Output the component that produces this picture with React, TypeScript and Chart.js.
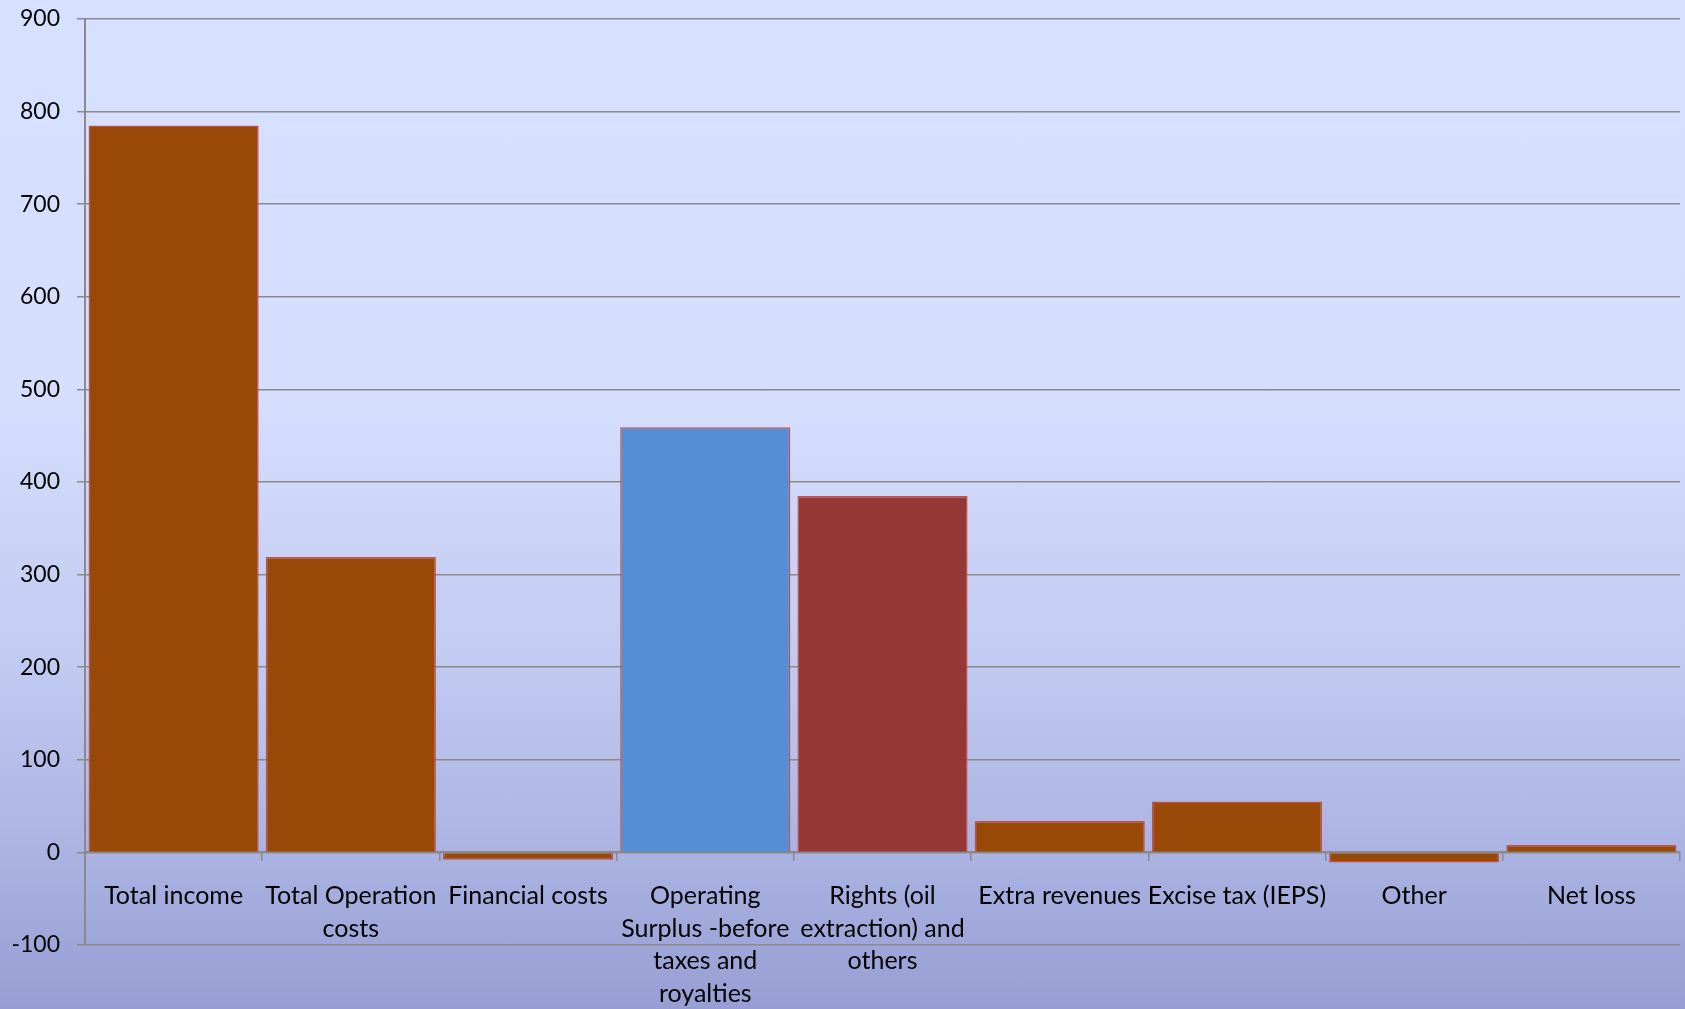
import React, { useEffect, useRef } from "react";
import { Chart, registerables } from "chart.js";

Chart.register(...registerables);

const CATEGORIES: (string | string[])[] = [
  "Total income",
  ["Total Operation", "costs"],
  "Financial costs",
  ["Operating", "Surplus -before", "taxes and", "royalties"],
  ["Rights (oil", "extraction) and", "others"],
  "Extra revenues",
  "Excise tax (IEPS)",
  "Other",
  "Net loss",
];

const VALUES: number[] = [785, 319, -8, 459, 385, 34, 55, -11, 8];

const Y_MIN = -100;
const Y_MAX = 900;
const Y_STEP = 100;

const BROWN = "#984807";
const BLUE = "#558ed5";
const RED = "#953735";
const BAR_COLORS = [BROWN, BROWN, BROWN, BLUE, RED, BROWN, BROWN, BROWN, BROWN];

const GRID = "#8a8a8a";
const FAMILY = "Lato, 'Noto Sans', sans-serif";

export default function App() {
  const ref = useRef<HTMLCanvasElement | null>(null);

  useEffect(() => {
    if (!ref.current) return;
    const chart = new Chart(ref.current, {
      type: "bar",
      data: {
        labels: CATEGORIES,
        datasets: [
          {
            data: VALUES,
            backgroundColor: BAR_COLORS,
            borderColor: "#c0504d",
            borderWidth: 1.5,
            barPercentage: 0.96,
            categoryPercentage: 1,
          },
        ],
      },
      options: {
        animation: false,
        responsive: false,
        layout: { padding: { top: 19, bottom: 64, right: 5, left: 8 } },
        plugins: { legend: { display: false }, tooltip: { enabled: false } },
        scales: {
          x: {
            position: { y: 0 } as any,
            offset: true,
            afterFit: (s: any) => {
              s.paddingTop = 0;
              s.paddingBottom = 0;
            },
            grid: {
              offset: true,
              drawOnChartArea: false,
              drawTicks: true,
              tickLength: 8,
              color: GRID,
              lineWidth: 1.5,
            },
            border: { display: true, color: GRID, width: 2 },
            ticks: {
              color: "#000",
              font: { family: FAMILY, size: 25, lineHeight: 1.31 },
              padding: 19,
              maxRotation: 0,
              minRotation: 0,
              autoSkip: false,
            },
          },
          y: {
            min: Y_MIN,
            max: Y_MAX,
            afterFit: (s: any) => {
              s.width = 77;
              s.paddingTop = 0;
              s.paddingBottom = 0;
            },
            grid: {
              color: GRID,
              lineWidth: 1.5,
              drawTicks: true,
              tickLength: 8,
            },
            border: { display: true, color: GRID, width: 2 },
            ticks: {
              stepSize: Y_STEP,
              color: "#000",
              font: { family: FAMILY, size: 23 },
              padding: 17,
            },
          },
        },
      },
    });
    return () => chart.destroy();
  }, []);

  return (
    <div
      style={{
        position: "fixed",
        left: 0,
        top: 0,
        width: 1685,
        height: 1009,
        background:
          "linear-gradient(to bottom, #d7e0ff 0%, #d5defd 40%, #c2cbf1 65%, #aab2e2 85%, #969ed3 100%)",
      }}
    >
      <canvas ref={ref} width={1685} height={1009} style={{ display: "block" }} />
    </div>
  );
}
